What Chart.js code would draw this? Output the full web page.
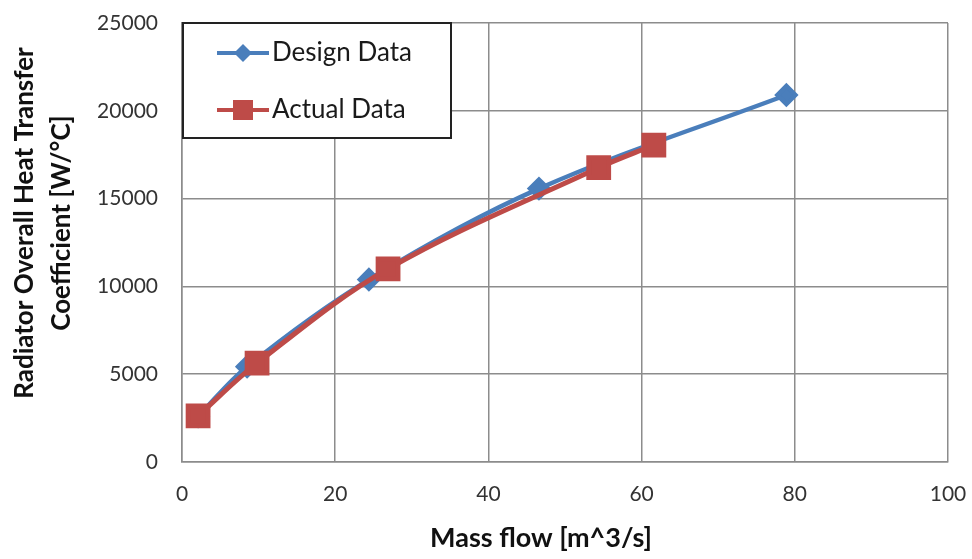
<!DOCTYPE html>
<html>
<head>
<meta charset="utf-8">
<script src="https://cdn.jsdelivr.net/npm/chart.js@4"></script>
<style>
  html, body { margin: 0; padding: 0; background: #fff; }
  #wrap { width: 972px; height: 559px; }
</style>
</head>
<body>
<div id="wrap"><canvas id="flow-chart" width="972" height="559"></canvas></div>
<script>
const designFlow = [2.1, 8.5, 24.4, 46.6, 78.9];
const designU = [2600, 5430, 10390, 15570, 20900];
const actualFlow = [2.1, 9.8, 26.9, 54.4, 61.6];
const actualU = [2630, 5630, 11000, 16760, 18050];
const xTicks = [0, 20, 40, 60, 80, 100];
const yTicks = [0, 5000, 10000, 15000, 20000, 25000];
const xTitle = "Mass flow [m^3/s]";
const yTitle = ["Radiator Overall Heat Transfer", "Coefficient [W/°C]"];

const blue = "#4a7ebb";
const red = "#be4b48";
const fontName = "Lato, 'Open Sans', sans-serif";

function toPoints(xs, ys) {
    return xs.map((x, i) => ({ x: x, y: ys[i] }));
}

// legend box drawn inside the plot, top left
const boxLegend = {
    id: "boxLegend",
    afterDraw(chart) {
        const ctx = chart.ctx;
        const area = chart.chartArea;
        const left = area.left + 1, top = area.top;
        const w = 268, h = 115;
        ctx.save();
        ctx.fillStyle = "#fff";
        ctx.fillRect(left, top, w, h);
        ctx.strokeStyle = "#222";
        ctx.lineWidth = 2;
        ctx.strokeRect(left, top, w, h);
        chart.data.datasets.forEach((ds, i) => {
            const y = top + 30 + i * 57;
            ctx.strokeStyle = ds.borderColor;
            ctx.lineWidth = 4;
            ctx.beginPath();
            ctx.moveTo(left + 34, y);
            ctx.lineTo(left + 86, y);
            ctx.stroke();
            ctx.fillStyle = ds.backgroundColor;
            if (ds.pointStyle === "rect") {
                ctx.fillRect(left + 50, y - 10, 20, 20);
            } else {
                ctx.beginPath();
                ctx.moveTo(left + 60, y - 9);
                ctx.lineTo(left + 69, y);
                ctx.lineTo(left + 60, y + 9);
                ctx.lineTo(left + 51, y);
                ctx.closePath();
                ctx.fill();
            }
            ctx.fillStyle = "#1a1a1a";
            ctx.font = "26px " + fontName;
            ctx.textBaseline = "middle";
            ctx.fillText(ds.label, left + 89, y);
        });
        ctx.restore();
    }
};

// axis titles, placed by hand
const axisTitles = {
    id: "axisTitles",
    afterDraw(chart) {
        const ctx = chart.ctx;
        ctx.save();
        ctx.fillStyle = "#111";
        ctx.textAlign = "center";
        ctx.textBaseline = "middle";
        ctx.font = "bold 27px " + fontName;
        ctx.fillText(xTitle, 541, 538);
        ctx.font = "bold 26px " + fontName;
        ctx.translate(0, 223);
        ctx.rotate(-Math.PI / 2);
        ctx.fillText(yTitle[0], 0, 25);
        ctx.fillText(yTitle[1], 0, 62);
        ctx.restore();
    }
};

new Chart(document.getElementById("flow-chart"), {
    type: "scatter",
    data: {
        datasets: [
            {
                label: "Design Data",
                data: toPoints(designFlow, designU),
                showLine: true,
                borderColor: blue,
                backgroundColor: blue,
                borderWidth: 4.5,
                pointStyle: "rectRot",
                pointRadius: 9,
                pointHoverRadius: 9,
                tension: 0.35,
                order: 2
            },
            {
                label: "Actual Data",
                data: toPoints(actualFlow, actualU),
                showLine: true,
                borderColor: red,
                backgroundColor: red,
                borderWidth: 5,
                pointStyle: "rect",
                pointRadius: 14,
                pointHoverRadius: 14,
                tension: 0.35,
                order: 1
            }
        ]
    },
    options: {
        responsive: false,
        animation: false,
        layout: { padding: { left: 0, right: 24, top: 23, bottom: 0 } },
        plugins: { legend: { display: false }, tooltip: { enabled: false } },
        scales: {
            x: {
                type: "linear",
                min: 0,
                max: 100,
                afterBuildTicks: (scale) => { scale.ticks = xTicks.map(v => ({ value: v })); },
                afterFit: (scale) => {
                    scale.height = 97;
                    scale.paddingLeft = 0;
                    scale.paddingRight = 0;
                },
                grid: { color: "#8c8c8c", lineWidth: 1.5, drawTicks: false },
                border: { color: "#8c8c8c", width: 1.5 },
                ticks: { color: "#333", font: { family: fontName, size: 21 }, padding: 20, maxRotation: 0, callback: (v) => String(v) }
            },
            y: {
                min: 0,
                max: 25000,
                afterBuildTicks: (scale) => { scale.ticks = yTicks.map(v => ({ value: v })); },
                afterFit: (scale) => {
                    scale.width = 182;
                    scale.paddingTop = 0;
                    scale.paddingBottom = 0;
                },
                grid: { color: "#8c8c8c", lineWidth: 1.5, drawTicks: false },
                border: { color: "#8c8c8c", width: 1.5 },
                ticks: { color: "#333", font: { family: fontName, size: 21 }, padding: 24, callback: (v) => String(v) }
            }
        }
    },
    plugins: [boxLegend, axisTitles]
});
</script>
</body>
</html>
